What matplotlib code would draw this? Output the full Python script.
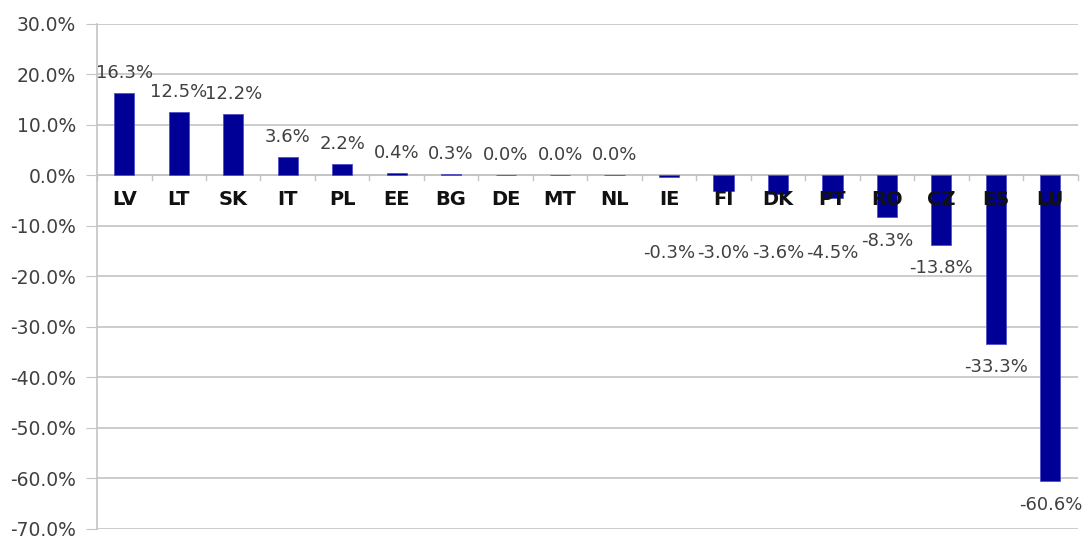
import matplotlib
matplotlib.use("Agg")
import matplotlib.pyplot as plt
import numpy as np

# -------------------- data --------------------
countries = ["LV", "LT", "SK", "IT", "PL", "EE", "BG", "DE", "MT", "NL",
             "IE", "FI", "DK", "PT", "RO", "CZ", "ES", "LU"]
change_pct = [16.3, 12.5, 12.2, 3.6, 2.2, 0.4, 0.3, 0.0, 0.0, 0.0,
              -0.3, -3.0, -3.6, -4.5, -8.3, -13.8, -33.3, -60.6]
y_ticks = list(range(-70, 31, 10))

BAR = "#000096"
GRID = "#c4c4c4"
TXT = "#404040"

fig = plt.figure(figsize=(10.83, 5.39), dpi=100)
ax = fig.add_axes([0.0896, 0.019, 0.9054, 0.9365])

x = np.arange(len(countries))
ax.bar(x, change_pct, width=0.37, color=BAR, edgecolor="#5050c8", linewidth=0.6, zorder=3)

ax.set_xlim(-0.5, len(countries) - 0.5)
ax.set_ylim(-70, 30)
ax.set_yticks(y_ticks)
ax.set_yticklabels([f"{v:.1f}%" for v in y_ticks], fontsize=13.5, color=TXT)
ax.grid(axis="y", color=GRID, linewidth=1.2, zorder=0)
ax.tick_params(axis="y", length=8, color=GRID, pad=7)

# category axis at zero, ticks between categories
ax.set_xticks([])
ax.axhline(0, color=GRID, linewidth=1.2, zorder=2)
for b in np.arange(-0.5, len(countries), 1.0):
    ax.plot([b, b], [0, -0.9], color=GRID, linewidth=1.0, zorder=2, clip_on=False)
for i, c in enumerate(countries):
    ax.text(i, -4.8, c, ha="center", va="center", fontsize=14, fontweight="bold",
            color="#111111", zorder=4)

# data labels: above positive bars, below negative ones (small ones pushed under the names)
for i, v in enumerate(change_pct):
    if v >= 0:
        ly = v + 4.0
    elif v < -6:
        ly = v - 4.6
    else:
        ly = -15.3
    ax.text(i, ly, f"{v:.1f}%", ha="center", va="center", fontsize=13, color=TXT, zorder=5)

for s in ["top", "right", "bottom"]:
    ax.spines[s].set_visible(False)
ax.spines["left"].set_color(GRID)
ax.spines["left"].set_linewidth(1.2)

fig.savefig("out.png", dpi=100)
